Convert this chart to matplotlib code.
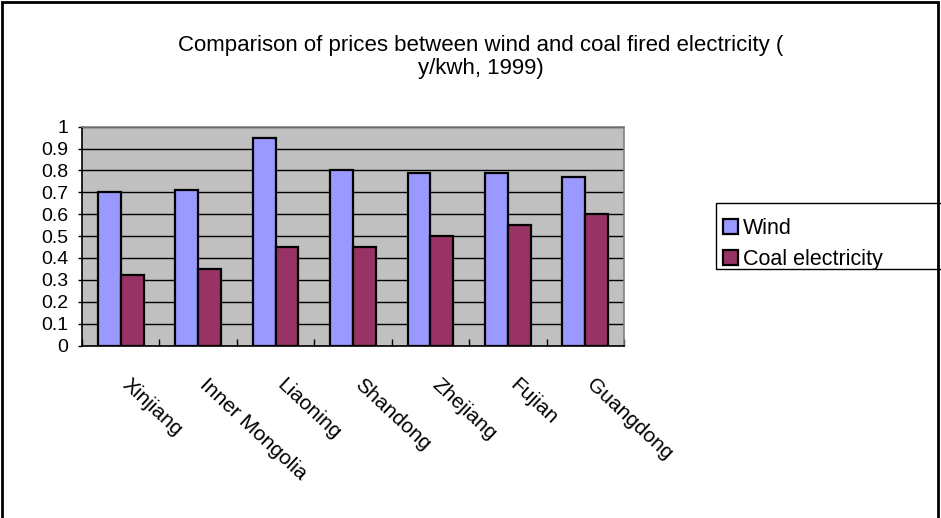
import matplotlib
matplotlib.use("Agg")
import matplotlib.pyplot as plt
import matplotlib.transforms as mtransforms
from matplotlib.patches import Rectangle
import numpy as np

plt.rcParams['font.family'] = ['Liberation Sans', 'DejaVu Sans']

# Data: price in yuan per kWh, 1999
provinces = ["Xinjiang", "Inner Mongolia", "Liaoning", "Shandong",
             "Zhejiang", "Fujian", "Guangdong"]
wind = [0.70, 0.71, 0.95, 0.80, 0.79, 0.79, 0.77]
coal = [0.32, 0.35, 0.45, 0.45, 0.50, 0.55, 0.60]
series_names = ["Wind", "Coal electricity"]
y_ticks = [0, 0.1, 0.2, 0.3, 0.4, 0.5, 0.6, 0.7, 0.8, 0.9, 1]
y_tick_labels = ["0", "0.1", "0.2", "0.3", "0.4", "0.5", "0.6", "0.7", "0.8", "0.9", "1"]
title = "Comparison of prices between wind and coal fired electricity (\ny/kwh, 1999)"

W, H = 941, 518
fig = plt.figure(figsize=(W / 100, H / 100), dpi=100)
fig.patch.set_facecolor("white")

ax = fig.add_axes([82 / W, 1 - 345.5 / H, (624 - 82) / W, (345.5 - 126.7) / H])
ax.set_facecolor("#C0C0C0")

x = np.arange(len(provinces))
bw = 0.295
b1 = ax.bar(x - bw / 2, wind, bw, color="#9999FF", edgecolor="black", linewidth=1.6, zorder=3)
b2 = ax.bar(x + bw / 2, coal, bw, color="#993366", edgecolor="black", linewidth=1.6, zorder=3)

ax.set_xlim(-0.5, len(provinces) - 0.5)
ax.set_ylim(0, 1)
ax.set_yticks(y_ticks)
ax.set_yticklabels(y_tick_labels, fontsize=14)
ax.yaxis.grid(True, color="black", linewidth=1.0, zorder=1)
ax.set_axisbelow(True)
ax.tick_params(axis="y", direction="out", length=3, width=1, pad=7)

# Category boundary ticks (inward) and centered labels
ax.set_xticks(np.arange(len(provinces) + 1) - 0.5)
ax.set_xticklabels([])
ax.tick_params(axis="x", which="major", direction="in", length=5, width=1)
ax.set_xticks(x, minor=True)
ax.set_xticklabels(provinces, minor=True, rotation=-43, ha="left", va="top",
                   rotation_mode="anchor", fontsize=15)
ax.tick_params(axis="x", which="minor", length=0, pad=21)
shift = mtransforms.ScaledTranslation(11 / 100, 0, fig.dpi_scale_trans)
for lbl in ax.get_xticklabels(minor=True):
    lbl.set_transform(lbl.get_transform() + shift)

for s in ["left", "bottom"]:
    ax.spines[s].set_color("black")
    ax.spines[s].set_linewidth(1.2)
for s in ["top", "right"]:
    ax.spines[s].set_color("#808080")
    ax.spines[s].set_linewidth(1.2)

fig.text(481 / W, 1 - 57 / H, title, ha="center", va="center",
         fontsize=16, linespacing=1.1)

# Legend with frame running past the right edge
fig.patches.append(Rectangle((716 / W, 1 - 269 / H), 260 / W, 66 / H,
                             transform=fig.transFigure, facecolor="white",
                             edgecolor="black", linewidth=1.0, zorder=5))
leg = fig.legend([b1, b2], series_names, loc="upper left",
                 bbox_to_anchor=(721 / W, 1 - 216 / H), frameon=False,
                 handlelength=0.7, handleheight=0.7, handletextpad=0.2,
                 labelspacing=0.45, fontsize=15.5, borderaxespad=0, borderpad=0.1)
leg.set_zorder(6)

# Outer chart border
fig.patches.append(Rectangle((2 / W, -0.05), 936 / W, 1.05 - 2 / H,
                             transform=fig.transFigure, facecolor="none",
                             edgecolor="black", linewidth=2.0, zorder=10))

fig.savefig("out.png", dpi=100)
